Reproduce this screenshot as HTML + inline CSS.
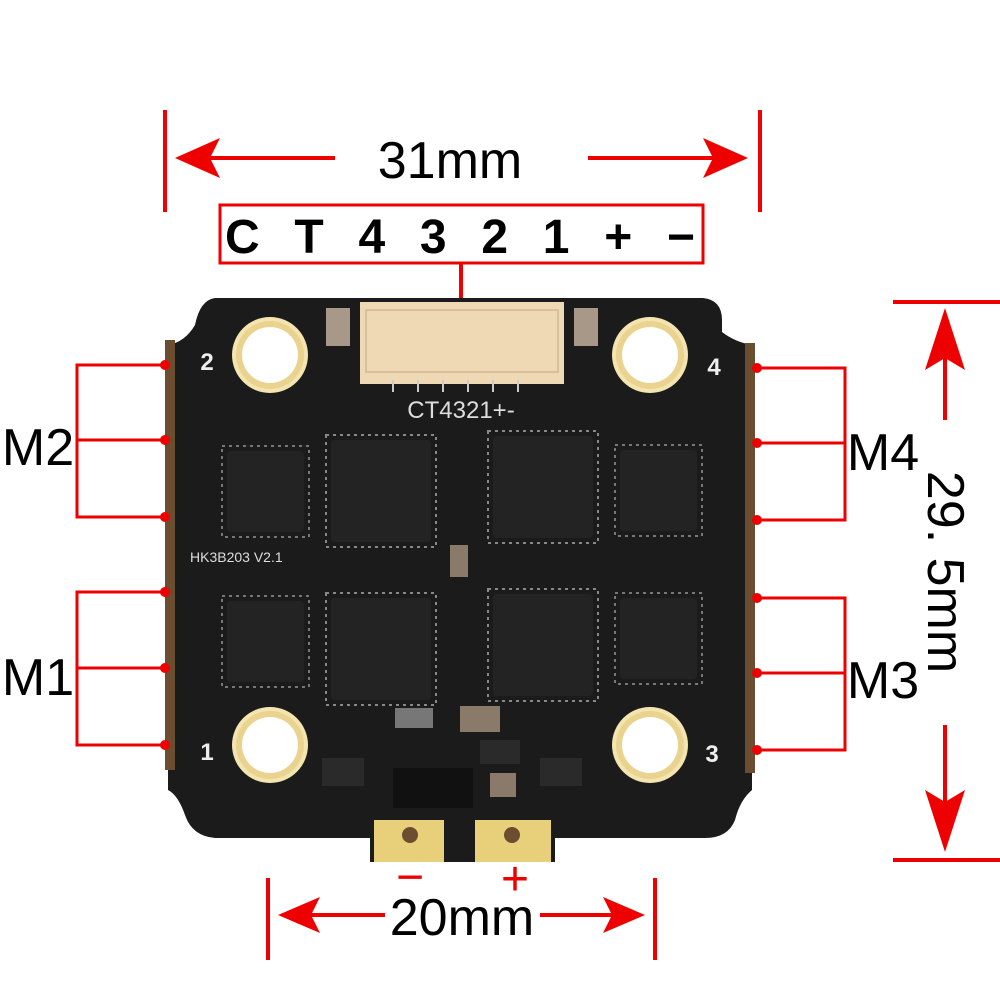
<!DOCTYPE html>
<html><head><meta charset="utf-8"><style>
html,body{margin:0;padding:0;background:#fff;}
svg{display:block}
text{font-family:"Liberation Sans",sans-serif;}
</style></head><body>
<svg width="1000" height="1000" viewBox="0 0 1000 1000" xmlns="http://www.w3.org/2000/svg">
<defs>
<g id="hole"><circle r="38" fill="#f3e4b0"/><circle r="34" fill="#e9d38e"/><circle r="28" fill="#fff"/></g>
<g id="chipS"><rect x="0" y="0" width="77" height="81" rx="4" fill="#232323"/><rect x="-5" y="-5" width="87" height="91" fill="none" stroke="#777" stroke-width="2" stroke-dasharray="3 4"/></g>
<g id="chipB"><rect x="0" y="0" width="100" height="102" rx="4" fill="#232323"/><rect x="-5" y="-5" width="110" height="112" fill="none" stroke="#888" stroke-width="2" stroke-dasharray="3 4"/></g>
</defs>

<g stroke="#e00" stroke-width="4" fill="#e00">
<line x1="165" y1="110" x2="165" y2="212"/>
<line x1="760" y1="110" x2="760" y2="212"/>
<line x1="205" y1="158" x2="335" y2="158"/>
<line x1="588" y1="158" x2="718" y2="158"/>
<line x1="461" y1="263" x2="461" y2="300"/>
<line x1="268" y1="878" x2="268" y2="960"/>
<line x1="655" y1="878" x2="655" y2="960"/>
<line x1="305" y1="915" x2="385" y2="915"/>
<line x1="540" y1="915" x2="620" y2="915"/>
<line x1="893" y1="302" x2="1000" y2="302"/>
<line x1="893" y1="860" x2="1000" y2="860"/>
<line x1="945" y1="340" x2="945" y2="420"/>
<line x1="945" y1="725" x2="945" y2="820"/>
</g>
<g fill="#e00">
<polygon points="175,158 220,138 210,158 220,178"/>
<polygon points="748,158 703,138 713,158 703,178"/>
<polygon points="278,915 320,897 311,915 320,933"/>
<polygon points="645,915 603,897 612,915 603,933"/>
<polygon points="945,308 925,370 945,358 965,370"/>
<polygon points="945,852 925,790 945,802 965,790"/>
</g>
<rect x="220" y="205" width="483" height="58" fill="none" stroke="#e00" stroke-width="3"/>
<text x="450" y="178" font-size="52" text-anchor="middle">31mm</text>
<text x="225" y="253" font-size="48" textLength="470" lengthAdjust="spacing" font-family="Liberation Mono" font-weight="bold">CT4321+−</text>
<text x="462" y="935" font-size="52" text-anchor="middle">20mm</text>
<text x="410" y="893" font-size="48" fill="#e00" text-anchor="middle">−</text>
<text x="515" y="895" font-size="48" fill="#e00" text-anchor="middle">+</text>
<text transform="translate(928,572) rotate(90)" font-size="52" text-anchor="middle">29. 5mm</text>

<path d="M215,298 L703,298 Q722,300 722,320 L722,332 Q735,342 752,345 L752,790 Q740,800 735,820 Q728,838 705,838 L555,838 L555,862 L370,862 L370,838 L215,838 Q192,836 185,815 Q178,795 168,790 L168,345 Q185,342 195,325 Q200,300 215,298 Z" fill="#1b1b1b"/>
<rect x="165" y="340" width="10" height="430" fill="#6b4d2f"/>
<rect x="745" y="343" width="10" height="430" fill="#6b4d2f"/>
<rect x="374" y="820" width="70" height="42" fill="#e8cf7a"/>
<rect x="475" y="820" width="76" height="42" fill="#e8cf7a"/>
<circle cx="410" cy="835" r="8" fill="#6b4d2f"/><circle cx="512" cy="835" r="8" fill="#6b4d2f"/>
<rect x="360" y="302" width="204" height="82" fill="#efd9b4"/>
<rect x="366" y="310" width="192" height="62" fill="none" stroke="#d8c09a" stroke-width="2"/>
<g stroke="#ccc" stroke-width="2"><line x1="393" y1="380" x2="393" y2="392"/><line x1="418" y1="380" x2="418" y2="392"/><line x1="443" y1="380" x2="443" y2="392"/><line x1="468" y1="380" x2="468" y2="392"/><line x1="493" y1="380" x2="493" y2="392"/><line x1="518" y1="380" x2="518" y2="392"/></g>
<rect x="326" y="308" width="24" height="38" fill="#a89888"/>
<rect x="574" y="308" width="24" height="38" fill="#a89888"/>
<text x="461" y="418" font-size="24" fill="#ddd" text-anchor="middle" font-family="Liberation Mono">CT4321+-</text>
<use href="#hole" x="270" y="355"/><use href="#hole" x="650" y="355"/>
<use href="#hole" x="270" y="745"/><use href="#hole" x="650" y="745"/>
<text x="207" y="370" font-size="24" fill="#eee" text-anchor="middle" font-weight="bold">2</text>
<text x="714" y="375" font-size="24" fill="#eee" text-anchor="middle" font-weight="bold">4</text>
<text x="207" y="760" font-size="24" fill="#eee" text-anchor="middle" font-weight="bold">1</text>
<text x="712" y="762" font-size="24" fill="#eee" text-anchor="middle" font-weight="bold">3</text>
<text x="190" y="562" font-size="14" fill="#ddd">HK3B203  V2.1</text>
<use href="#chipS" x="227" y="451"/><use href="#chipB" x="331" y="440"/>
<use href="#chipB" x="493" y="436"/><use href="#chipS" x="620" y="450"/>
<use href="#chipS" x="227" y="601"/><use href="#chipB" x="331" y="598"/>
<use href="#chipB" x="493" y="594"/><use href="#chipS" x="620" y="598"/>
<rect x="450" y="545" width="18" height="32" fill="#8a7a6a"/>
<rect x="393" y="768" width="80" height="40" fill="#111"/>
<rect x="322" y="758" width="42" height="28" fill="#2a2a2a"/>
<rect x="540" y="758" width="42" height="28" fill="#2a2a2a"/>
<rect x="490" y="773" width="26" height="24" fill="#8a7a6a"/>
<rect x="460" y="706" width="40" height="26" fill="#8a7a6a"/>
<rect x="395" y="708" width="38" height="20" fill="#777"/>
<rect x="480" y="740" width="40" height="24" fill="#2a2a2a"/>

<g stroke="#e00" stroke-width="3" fill="none">
<path d="M165,365 H77 V517 H165 M77,440 H165"/>
<path d="M165,592 H77 V745 H165 M77,668 H165"/>
<path d="M757,368 H845 V520 H757 M845,443 H757"/>
<path d="M757,598 H845 V750 H757 M845,673 H757"/>
</g>
<g fill="#e00">
<circle cx="165" cy="365" r="5"/><circle cx="165" cy="440" r="5"/><circle cx="165" cy="517" r="5"/>
<circle cx="165" cy="592" r="5"/><circle cx="165" cy="668" r="5"/><circle cx="165" cy="745" r="5"/>
<circle cx="757" cy="368" r="5"/><circle cx="757" cy="443" r="5"/><circle cx="757" cy="520" r="5"/>
<circle cx="757" cy="598" r="5"/><circle cx="757" cy="673" r="5"/><circle cx="757" cy="750" r="5"/>
</g>
<text x="38" y="465" font-size="52" text-anchor="middle">M2</text>
<text x="38" y="695" font-size="52" text-anchor="middle">M1</text>
<text x="883" y="470" font-size="52" text-anchor="middle">M4</text>
<text x="883" y="698" font-size="52" text-anchor="middle">M3</text>
</svg>
</body></html>
